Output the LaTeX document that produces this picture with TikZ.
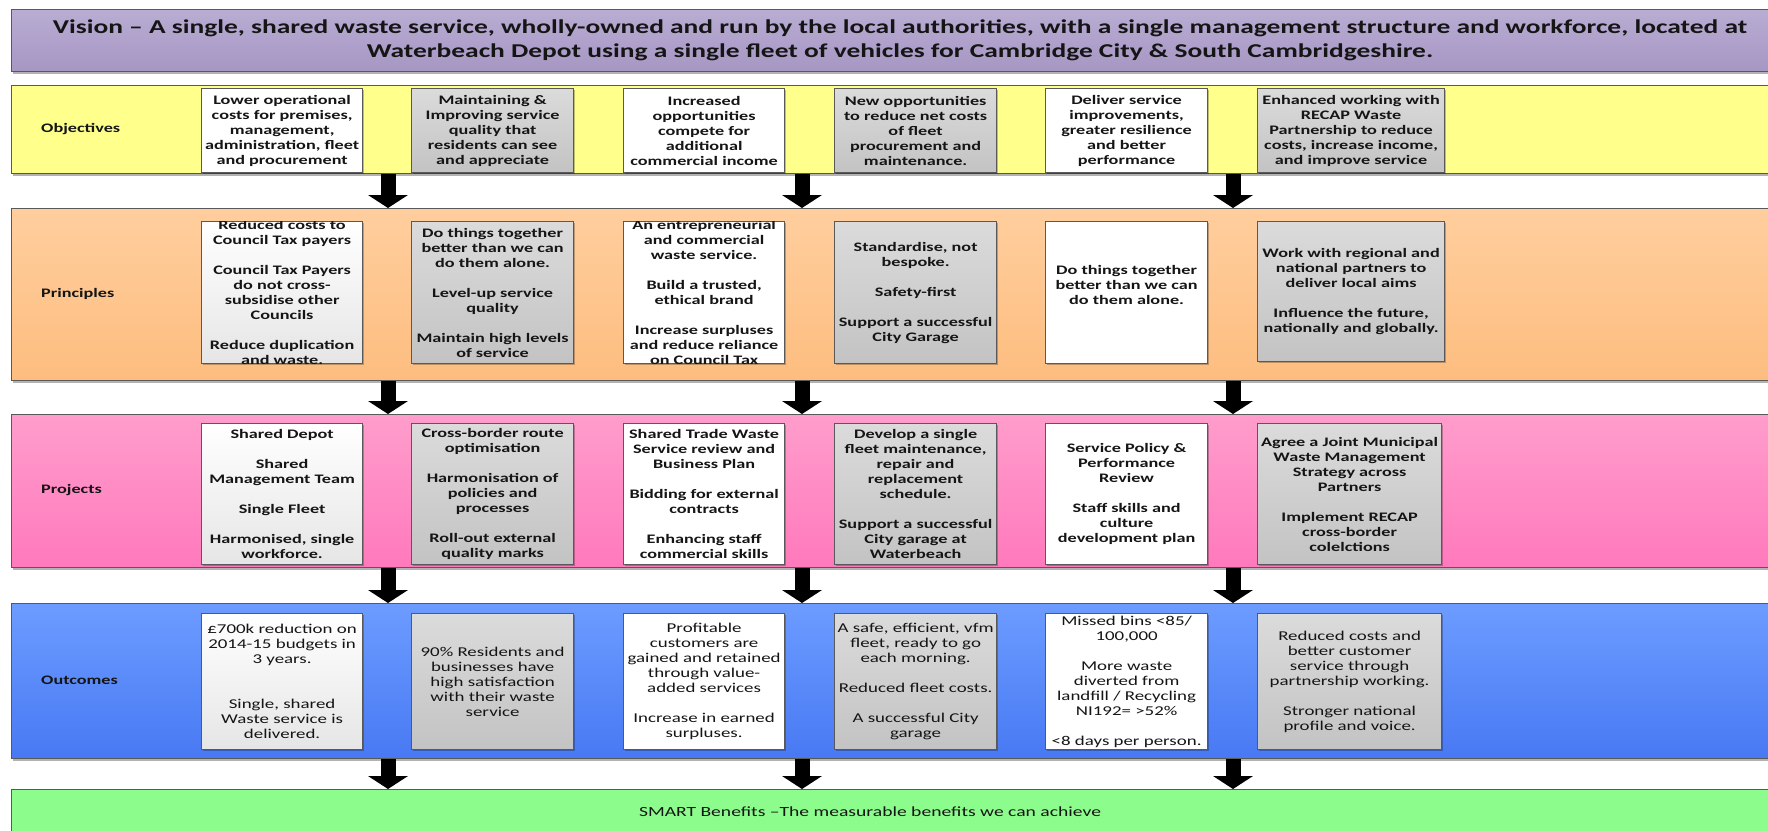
\documentclass[tikz,border=0pt]{standalone}
\usepackage{fontspec}
\setmainfont{Carlito}[FakeStretch=1.4]
\usetikzlibrary{arrows.meta,shadows,calc}
\definecolor{visT}{HTML}{B9ADD3}
\definecolor{visB}{HTML}{A696C3}
\definecolor{objC}{HTML}{FFFF8C}
\definecolor{priT}{HTML}{FFCE9E}
\definecolor{priB}{HTML}{FDBD7F}
\definecolor{prjT}{HTML}{FF9DCC}
\definecolor{prjB}{HTML}{FF79BC}
\definecolor{outT}{HTML}{6C9CFF}
\definecolor{outB}{HTML}{4879F3}
\definecolor{smaC}{HTML}{8CFC8C}
\definecolor{grT}{HTML}{DBDBDB}
\definecolor{grB}{HTML}{C3C3C3}
\definecolor{edge}{HTML}{595959}
\definecolor{txt}{HTML}{151515}
\newcommand\mybox[8]{%
  \node[cbox,#2,minimum width={#4-#3},minimum height={#6-#5},anchor=north west] (#1) at (#3,#5) {};
  \begin{scope}
    \clip (#1.north west) rectangle (#1.south east);
    \node[#7] (#1t) at (#1.center) {#8};
  \end{scope}}
\begin{document}
\begin{tikzpicture}[x=1pt,y=-1pt,
  band/.style={draw=edge,line width=1.2pt,rectangle,inner sep=0pt,anchor=north west,
    drop shadow={shadow xshift=1.5pt,shadow yshift=-2pt,fill=black,opacity=0.3}},
  cbox/.style={draw=edge,line width=1.2pt,rectangle,inner sep=0pt,
    drop shadow={shadow xshift=1.5pt,shadow yshift=-1.5pt,fill=black,opacity=0.25}},
  wbox/.style={fill=white},
  lbox/.style={top color=white,bottom color=black!10},
  gbox/.style={top color=grT,bottom color=grB},
  btxt/.style={font=\fontsize{13}{15}\selectfont\bfseries,align=center,text=txt,inner sep=0pt},
  rtxt/.style={font=\fontsize{13.5}{15}\selectfont,align=center,text=txt,inner sep=0pt},
  lab/.style={font=\fontsize{13}{15}\selectfont\bfseries,anchor=west,text=txt,inner sep=0pt},
  bigarrow/.style={line width=15pt,draw=black,-{Triangle[width=40pt,length=13pt,line width=0pt]}}]
\useasboundingbox (0,0) rectangle (1768,830);
\clip (0,0) rectangle (1768,830);
\fill[white] (0,0) rectangle (1768,830);

% bands
\node[band,top color=visT,bottom color=visB,minimum width=1789pt,minimum height=62pt] (vis) at (11,9) {};
\node[font=\fontsize{19.6}{24}\selectfont\bfseries,align=center,text=txt,inner sep=0pt] (vist) at (900,40)
  {Vision – A single, shared waste service, wholly-owned and run by the local authorities, with a single management structure and workforce, located at\\
   Waterbeach Depot using a single fleet of vehicles for Cambridge City \& South Cambridgeshire.};
\node[band,fill=objC,minimum width=1789pt,minimum height=88pt] (obj) at (11,85) {};
\node[band,top color=priT,bottom color=priB,minimum width=1789pt,minimum height=172pt] (pri) at (11,208) {};
\node[band,top color=prjT,bottom color=prjB,minimum width=1789pt,minimum height=153pt] (prj) at (11,414) {};
\node[band,top color=outT,bottom color=outB,minimum width=1789pt,minimum height=155pt] (out) at (11,603) {};
\node[band,fill=smaC,minimum width=1789pt,minimum height=70pt] (sma) at (11,789) {};

% labels
\node[lab] (lobj) at (41,129) {Objectives};
\node[lab] (lpri) at (41,294) {Principles};
\node[lab] (lprj) at (41,490) {Projects};
\node[lab] (lout) at (41,680) {Outcomes};
\node[font=\fontsize{14}{16}\selectfont,text=txt,inner sep=0pt] (smat) at (870,812)
  {SMART Benefits –The measurable benefits we can achieve};

% objectives
\mybox{o1}{wbox}{201}{362}{88}{172}{btxt}{Lower operational\\costs for premises,\\management,\\administration, fleet\\and procurement}
\mybox{o2}{gbox}{411}{573}{88}{172}{btxt}{Maintaining \&\\Improving service\\quality that\\residents can see\\and appreciate}
\mybox{o3}{wbox}{623}{784}{88}{172}{btxt}{Increased\\opportunities\\compete for\\additional\\commercial income}
\mybox{o4}{gbox}{834}{996}{88}{172}{btxt}{New opportunities\\to reduce net costs\\of fleet\\procurement and\\maintenance.}
\mybox{o5}{wbox}{1045}{1207}{88}{172}{btxt}{Deliver service\\improvements,\\greater resilience\\and better\\performance}
\mybox{o6}{gbox}{1257}{1444}{88}{172}{btxt}{Enhanced working with\\RECAP Waste\\Partnership to reduce\\costs, increase income,\\and improve service}

% principles
\mybox{p1}{lbox}{201}{362}{221}{363}{btxt}{Reduced costs to\\Council Tax payers\\[15pt]Council Tax Payers\\do not cross-\\subsidise other\\Councils\\[15pt]Reduce duplication\\and waste.}
\mybox{p2}{gbox}{411}{573}{221}{363}{btxt}{Do things together\\better than we can\\do them alone.\\[15pt]Level-up service\\quality\\[15pt]Maintain high levels\\of service}
\mybox{p3}{wbox}{623}{784}{221}{363}{btxt}{An entrepreneurial\\and commercial\\waste service.\\[15pt]Build a trusted,\\ethical brand\\[15pt]Increase surpluses\\and reduce reliance\\on Council Tax}
\mybox{p4}{gbox}{834}{996}{221}{363}{btxt}{Standardise, not\\bespoke.\\[15pt]Safety-first\\[15pt]Support a successful\\City Garage}
\mybox{p5}{wbox}{1045}{1207}{221}{363}{btxt,yshift=8pt}{Do things together\\better than we can\\do them alone.}
\mybox{p6}{gbox}{1257}{1444}{221}{361}{btxt}{Work with regional and\\national partners to\\deliver local aims\\[15pt]Influence the future,\\nationally and globally.}

% projects
\mybox{j1}{lbox}{201}{362}{423}{564}{btxt}{Shared Depot\\[15pt]Shared\\Management Team\\[15pt]Single Fleet\\[15pt]Harmonised, single\\workforce.}
\mybox{j2}{gbox}{411}{573}{423}{564}{btxt}{Cross-border route\\optimisation\\[15pt]Harmonisation of\\policies and\\processes\\[15pt]Roll-out external\\quality marks}
\mybox{j3}{wbox}{623}{784}{423}{564}{btxt}{Shared Trade Waste\\Service review and\\Business Plan\\[15pt]Bidding for external\\contracts\\[15pt]Enhancing staff\\commercial skills}
\mybox{j4}{gbox}{834}{996}{423}{564}{btxt}{Develop a single\\fleet maintenance,\\repair and\\replacement\\schedule.\\[15pt]Support a successful\\City garage at\\Waterbeach}
\mybox{j5}{wbox}{1045}{1207}{423}{564}{btxt}{Service Policy \&\\Performance\\Review\\[15pt]Staff skills and\\culture\\development plan}
\mybox{j6}{gbox}{1257}{1441}{423}{564}{btxt}{Agree a Joint Municipal\\Waste Management\\Strategy across\\Partners\\[15pt]Implement RECAP\\cross-border\\colelctions}

% outcomes
\mybox{u1}{lbox}{201}{362}{613}{749}{rtxt}{£700k reduction on\\2014-15 budgets in\\3 years.\\[30pt]Single, shared\\Waste service is\\delivered.}
\mybox{u2}{gbox}{411}{573}{613}{749}{rtxt}{90\% Residents and\\businesses have\\high satisfaction\\with their waste\\service}
\mybox{u3}{wbox}{623}{784}{613}{749}{rtxt}{Profitable\\customers are\\gained and retained\\through value-\\added services\\[15pt]Increase in earned\\surpluses.}
\mybox{u4}{gbox}{834}{996}{613}{749}{rtxt}{A safe, efficient, vfm\\fleet, ready to go\\each morning.\\[15pt]Reduced fleet costs.\\[15pt]A successful City\\garage}
\mybox{u5}{wbox}{1045}{1207}{613}{749}{rtxt}{Missed bins <85/\\100,000\\[15pt]More waste\\diverted from\\landfill / Recycling\\NI192= >52\%\\[15pt]<8 days per person.}
\mybox{u6}{gbox}{1257}{1441}{613}{749}{rtxt}{Reduced costs and\\better customer\\service through\\partnership working.\\[15pt]Stronger national\\profile and voice.}

% arrows
\coordinate (ax1) at (388,0);
\coordinate (ax2) at (802,0);
\coordinate (ax3) at (1233,0);
\foreach \a in {ax1,ax2,ax3}{
  \draw[bigarrow] (obj.south -| \a) -- (pri.north -| \a);
  \draw[bigarrow] (pri.south -| \a) -- (prj.north -| \a);
  \draw[bigarrow] (prj.south -| \a) -- (out.north -| \a);
  \draw[bigarrow] (out.south -| \a) -- (sma.north -| \a);
}
\end{tikzpicture}
\end{document}
